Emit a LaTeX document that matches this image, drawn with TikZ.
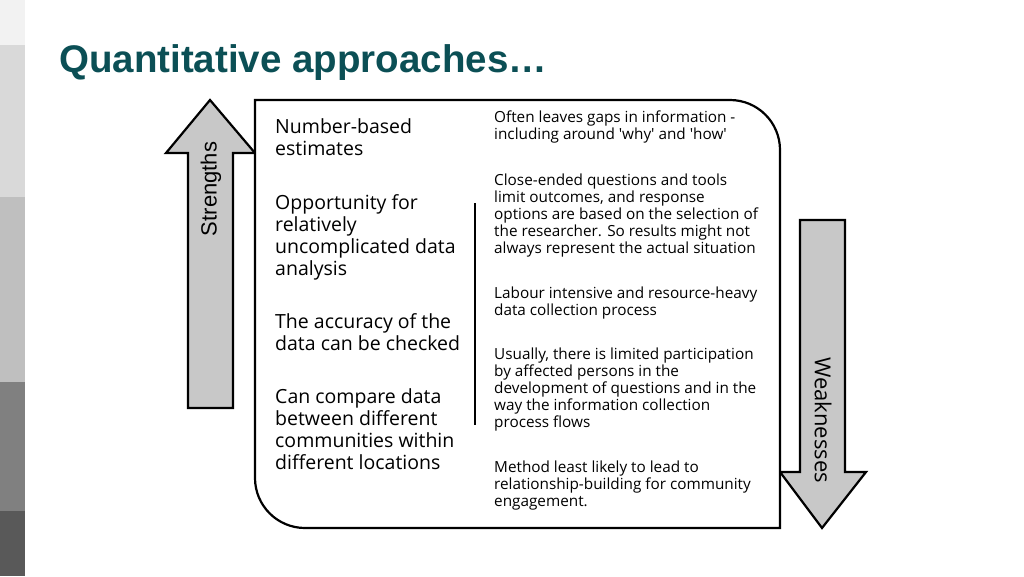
\documentclass[tikz,border=0pt]{standalone}
\usepackage{fontspec}
\setmainfont{Open Sans}
\newfontfamily\titlefont{Liberation Sans}
\definecolor{titleteal}{HTML}{0B4F55}
\definecolor{arrowgrey}{HTML}{C8C8C8}
\tikzset{
	lefttext/.style = {anchor = north west, align = left, inner sep = 0, font = \fontsize{19.5}{22}\selectfont},
	righttext/.style = {anchor = north west, align = left, inner sep = 0, font = \fontsize{15.3}{17}\selectfont},
	bigarrow/.style = {fill = arrowgrey, draw = black, line width = 2.2pt, line join = miter}
}
\begin{document}
\begin{tikzpicture}[x = 1pt, y = -1pt]

	\useasboundingbox (0, 0) rectangle (1024, 576);

	% Side strip
	
	\fill [white] (0, 0) rectangle (1024, 576);
	\fill [black!5] (0, 0) rectangle (25, 45);
	\fill [black!15] (0, 45) rectangle (25, 197);
	\fill [black!25] (0, 197) rectangle (25, 382);
	\fill [black!50] (0, 382) rectangle (25, 511);
	\fill [black!65] (0, 511) rectangle (25, 576);
	
	% Title
	
	\node [anchor = base west, inner sep = 0, text = titleteal, font = \titlefont\bfseries\fontsize{38.5}{44}\selectfont] (title) at (59, 72) {Quantitative approaches\ldots};
	
	% Arrows
	
	\draw [bigarrow] (188, 408) -- (188, 153) -- (166, 153) -- (210, 100) -- (255, 153) -- (233, 153) -- (233, 408) -- cycle;
	\node [rotate = 90, anchor = center, font = \titlefont\fontsize{22}{24}\selectfont] (strengths) at (211, 189) {Strengths};
	
	\draw [bigarrow] (800, 220) -- (800, 472) -- (780, 472) -- (822, 528) -- (866, 472) -- (845, 472) -- (845, 220) -- cycle;
	\node [rotate = -90, anchor = center, font = \fontsize{22}{24}\selectfont] (weaknesses) at (823, 420) {Weaknesses};
	
	% Main box
	
	\draw [line width = 2.2pt, fill = white] (255, 100) -- (730, 100) arc (-90 : 0 : 50) -- (780, 528) -- (305, 528) arc (90 : 180 : 50) -- cycle;
	\draw [line width = 2pt] (475, 203) -- (475, 425);
	
	% Strengths
	
	\node [lefttext] (number) at (275, 118) {Number-based\\estimates};
	\node [lefttext] (opportunity) at (275, 194) {Opportunity for\\relatively\\uncomplicated data\\analysis};
	\node [lefttext] (accuracy) at (275, 313) {The accuracy of the\\data can be checked};
	\node [lefttext] (compare) at (275, 388) {Can compare data\\between different\\communities within\\different locations};
	
	% Weaknesses
	
	\node [righttext] (gaps) at (494, 111) {Often leaves gaps in information -\\including around \textquotesingle why\textquotesingle{} and \textquotesingle how\textquotesingle};
	\node [righttext] (closed) at (494, 174) {Close-ended questions and tools\\limit outcomes, and response\\options are based on the selection of\\the researcher. So results might not\\always represent the actual situation};
	\node [righttext] (labour) at (494, 287) {Labour intensive and resource-heavy\\data collection process};
	\node [righttext] (participation) at (494, 348) {Usually, there is limited participation\\by affected persons in the\\development of questions and in the\\way the information collection\\process flows};
	\node [righttext] (method) at (494, 461) {Method least likely to lead to\\relationship-building for community\\engagement.};

\end{tikzpicture}
\end{document}
